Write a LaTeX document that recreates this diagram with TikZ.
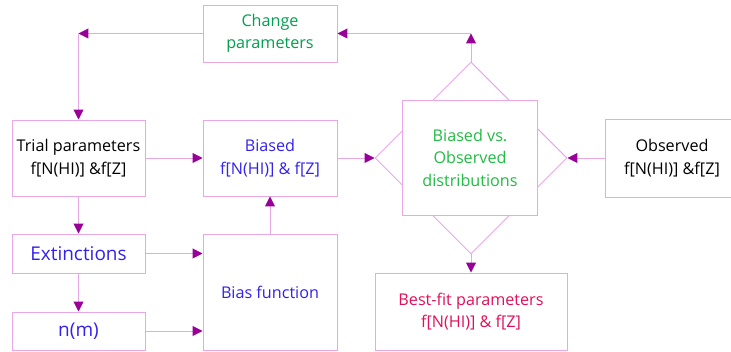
\documentclass[tikz,border=0pt]{standalone}
\usepackage{fontspec}
\setmainfont{Open Sans}
\usetikzlibrary{arrows.meta,shapes.geometric}
\definecolor{linkpink}{RGB}{232,168,232}
\definecolor{tippurple}{RGB}{153,0,153}
\definecolor{txtgreen}{RGB}{0,160,80}
\definecolor{cmpgreen}{RGB}{34,187,68}
\definecolor{txtblue}{RGB}{51,34,238}
\definecolor{txtred}{RGB}{224,16,90}
\tikzset{
  box/.style={draw=linkpink, line width=0.7pt, fill=white, align=center, inner sep=2pt,
    font=\fontsize{11.5}{16}\selectfont},
  bigbox/.style={box, font=\fontsize{13.5}{16}\selectfont},
  link/.style={draw=linkpink, line width=0.7pt,
    -{Triangle[length=7pt,width=7pt,color=tippurple]}},
}
\begin{document}
\begin{tikzpicture}[x=0.025cm, y=-0.025cm]
% Set the page to the reference size
\useasboundingbox (0,0) rectangle (731,352);
\clip (0,0) rectangle (731,352);

% Boxes of the loop
\node[box, minimum width=134*0.025cm, minimum height=57*0.025cm, text=txtgreen] (change) at (270,33.5) {Change\\parameters};
\node[box, minimum width=133*0.025cm, minimum height=76*0.025cm] (trial) at (78.5,158) {Trial parameters\\f[N(HI)] \&f[Z]};
\node[box, minimum width=134*0.025cm, minimum height=76*0.025cm, text=txtblue] (biased) at (270,158) {Biased\\f[N(HI)] \& f[Z]};
\node[bigbox, minimum width=133*0.025cm, minimum height=39*0.025cm, text=txtblue] (ext) at (78.5,253.5) {Extinctions};
\node[bigbox, minimum width=133*0.025cm, minimum height=38*0.025cm, text=txtblue] (nm) at (78.5,331) {n(m)};
\node[box, minimum width=134*0.025cm, minimum height=116*0.025cm, text=txtblue] (biasfn) at (270,292) {Bias function};

% Comparison: a diamond behind a box
\node[diamond, draw=linkpink, line width=0.7pt, aspect=1, minimum size=192*0.025cm, inner sep=0pt] (cmpd) at (471,158) {};
\node[box, minimum width=135*0.025cm, minimum height=115*0.025cm, text=cmpgreen] (cmp) at (470,157.5) {Biased vs.\\Observed\\distributions};
\node[box, minimum width=134*0.025cm, minimum height=78*0.025cm] (obs) at (672,158) {Observed\\f[N(HI)] \&f[Z]};
\node[box, minimum width=192*0.025cm, minimum height=77*0.025cm, text=txtred] (best) at (471,311.5) {Best-fit parameters\\f[N(HI)] \& f[Z]};

% Corners of the feedback path
\coordinate (cornerL) at (trial.north |- change.west);
\coordinate (cornerR) at (cmpd.north |- change.east);

% Connectors
\draw[link] (change.west) -- (cornerL);
\draw[link] (cornerL) -- (trial.north);
\draw[link] (cmpd.north) -- (cornerR);
\draw[link] (cornerR) -- (change.east);
\draw[link] (trial.east) -- (biased.west);
\draw[link] (biased.east) -- (cmpd.west);
\draw[link] (obs.west) -- (cmpd.east);
\draw[link] (cmpd.south) -- (best.north);
\draw[link] (trial.south) -- (ext.north);
\draw[link] (ext.south) -- (nm.north);
\draw[link] (ext.east) -- (ext.east -| biasfn.west);
\draw[link] (nm.east) -- (nm.east -| biasfn.west);
\draw[link] (biasfn.north) -- (biased.south);
\end{tikzpicture}
\end{document}
